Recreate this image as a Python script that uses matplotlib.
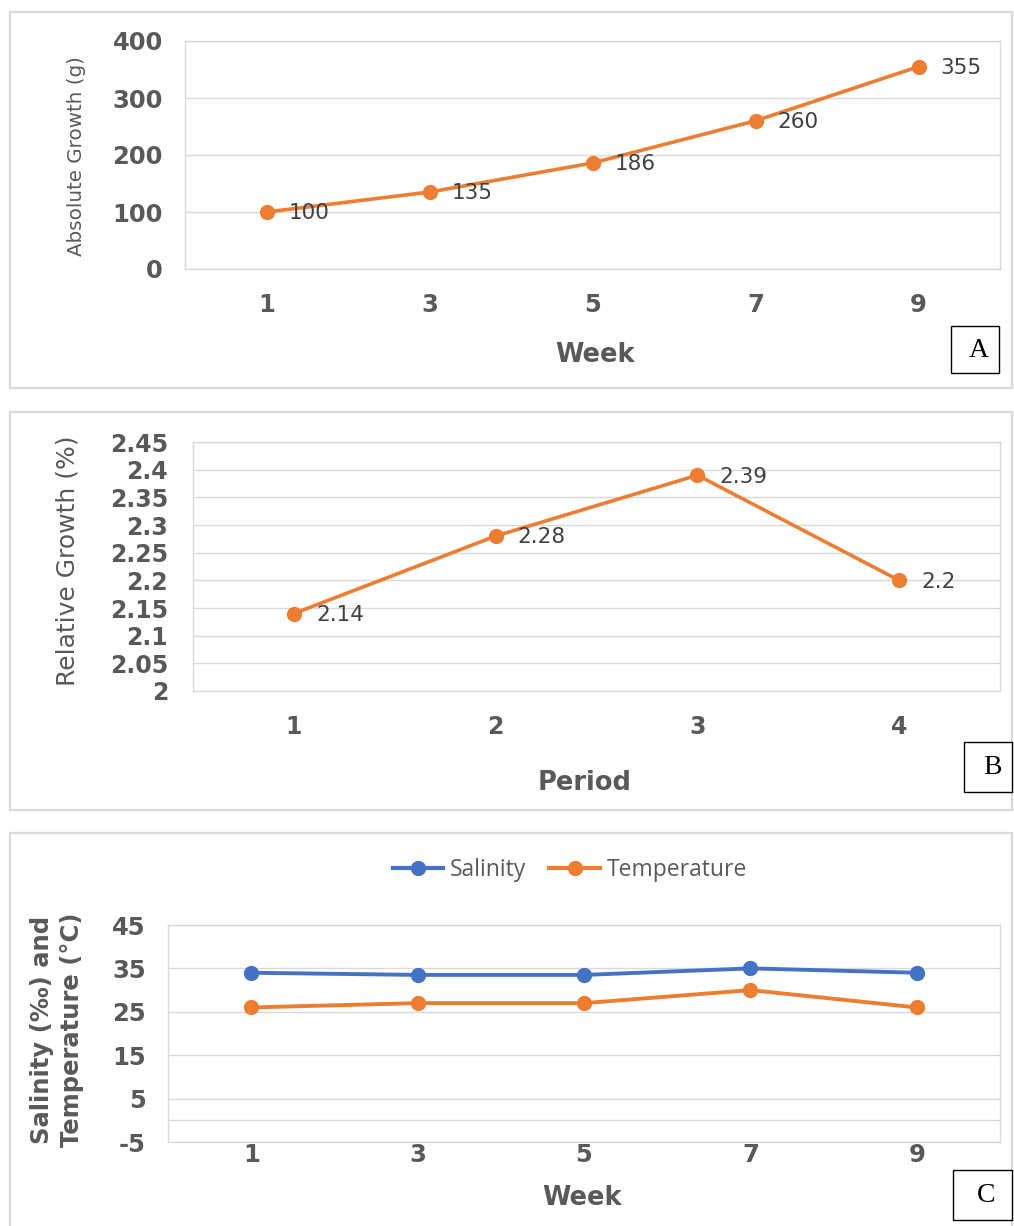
import matplotlib
matplotlib.use("Agg")
import matplotlib.pyplot as plt
from matplotlib.patches import Rectangle
from matplotlib.lines import Line2D

plt.rcParams["axes.unicode_minus"] = False

# ---------------- data ----------------
weeks = ["1", "3", "5", "7", "9"]
absolute_growth = [100, 135, 186, 260, 355]

periods = ["1", "2", "3", "4"]
relative_growth = [2.14, 2.28, 2.39, 2.2]
relative_labels = ["2.14", "2.28", "2.39", "2.2"]

salinity = [34, 33.5, 33.5, 35, 34]
temperature = [26, 27, 27, 30, 26]

# ---------------- style ----------------
W, H = 1014, 1226
ORANGE = "#ED7D31"
BLUE = "#4472C4"
GRID = "#D9D9D9"
TXT = "#595959"
LBL = "#404040"

fig = plt.figure(figsize=(W / 100, H / 100), dpi=100)
fig.patch.set_facecolor("white")


def rect(l, t, r, b):
    return [l / W, 1 - b / H, (r - l) / W, (b - t) / H]


def fx(x):
    return x / W


def fy(y):
    return 1 - y / H


# panel borders
for (l, t, r, b) in [(10, 12, 1012, 388), (10, 412, 1012, 810), (10, 833, 1012, 1240)]:
    fig.patches.append(Rectangle((fx(l), fy(b)), (r - l) / W, (b - t) / H,
                                 transform=fig.transFigure, fill=False,
                                 edgecolor="#D9D9D9", lw=1.6))


def style_axes(ax, size):
    for s in ax.spines.values():
        s.set_color(GRID)
        s.set_linewidth(1.0)
    ax.grid(axis="y", color=GRID, lw=1.0)
    ax.set_axisbelow(True)
    ax.tick_params(length=0, colors=TXT, labelsize=size)
    for lab in ax.get_xticklabels() + ax.get_yticklabels():
        lab.set_fontweight("bold")
        lab.set_color(TXT)


def box_label(text, l, t, r, b):
    fig.patches.append(Rectangle((fx(l), fy(b)), (r - l) / W, (b - t) / H,
                                 transform=fig.transFigure, fill=True,
                                 facecolor="white", edgecolor="black", lw=1.0))
    fig.text(fx((l + r) / 2 + 4), fy((t + b) / 2 + 1), text, family="Liberation Serif",
             fontsize=20, ha="center", va="center", color="black")


# ---------------- Panel A ----------------
axA = fig.add_axes(rect(185, 41, 1000, 269))
xa = list(range(len(weeks)))
axA.plot(xa, absolute_growth, color=ORANGE, lw=2.6, marker="o", ms=10, zorder=3)
axA.set_xlim(-0.5, len(weeks) - 0.5)
axA.set_ylim(0, 400)
axA.set_yticks([0, 100, 200, 300, 400])
axA.set_xticks(xa)
axA.set_xticklabels(weeks)
style_axes(axA, 17.5)
axA.tick_params(axis="x", pad=17)
axA.tick_params(axis="y", pad=16)
for x, v in zip(xa, absolute_growth):
    axA.annotate(str(v), (x, v), xytext=(16, -1), textcoords="offset points",
                 ha="left", va="center", fontsize=15.5, color=LBL)
fig.text(fx(77), fy(156), "Absolute Growth (g)", rotation=90, ha="center", va="center",
         fontsize=14.3, color=TXT)
fig.text(fx(595), fy(355), "Week", ha="center", va="center", fontsize=18.5,
         fontweight="bold", color=TXT)
box_label("A", 951, 326, 999, 373)

# ---------------- Panel B ----------------
axB = fig.add_axes(rect(193, 442, 1000, 691))
xb = list(range(len(periods)))
axB.plot(xb, relative_growth, color=ORANGE, lw=2.6, marker="o", ms=10, zorder=3)
axB.set_xlim(-0.5, len(periods) - 0.5)
axB.set_ylim(2.0, 2.45)
yt = [2.0, 2.05, 2.1, 2.15, 2.2, 2.25, 2.3, 2.35, 2.4, 2.45]
axB.set_yticks(yt)
axB.set_yticklabels(["2", "2.05", "2.1", "2.15", "2.2", "2.25", "2.3", "2.35", "2.4", "2.45"])
axB.set_xticks(xb)
axB.set_xticklabels(periods)
style_axes(axB, 17)
axB.tick_params(axis="x", pad=17)
axB.tick_params(axis="y", pad=18)
for x, v, s in zip(xb, relative_growth, relative_labels):
    axB.annotate(s, (x, v), xytext=(16, -1), textcoords="offset points",
                 ha="left", va="center", fontsize=15.5, color=LBL)
fig.text(fx(68), fy(561), "Relative Growth (%)", rotation=90, ha="center", va="center",
         fontsize=18, color=TXT)
fig.text(fx(585), fy(783), "Period", ha="center", va="center", fontsize=18.5,
         fontweight="bold", color=TXT)
box_label("B", 964, 742, 1012, 792)

# ---------------- Panel C ----------------
axC = fig.add_axes(rect(168, 925, 1000, 1142))
xc = list(range(len(weeks)))
axC.plot(xc, salinity, color=BLUE, lw=2.8, marker="o", ms=10, zorder=3, label="Salinity")
axC.plot(xc, temperature, color=ORANGE, lw=2.8, marker="o", ms=10, zorder=3, label="Temperature")
axC.set_xlim(-0.5, len(weeks) - 0.5)
axC.set_ylim(-5, 45)
axC.set_yticks([-5, 5, 15, 25, 35, 45])
axC.set_yticklabels(["-5", "5", "15", "25", "35", "45"])
axC.axhline(0, color=GRID, lw=1.0, zorder=0)
axC.set_xticks(xc)
axC.set_xticklabels(weeks)
style_axes(axC, 17.5)
axC.tick_params(axis="x", pad=1)
axC.tick_params(axis="y", pad=16)
handles = [Line2D([0], [0], color=BLUE, lw=3, marker="o", ms=10),
           Line2D([0], [0], color=ORANGE, lw=3, marker="o", ms=10)]
leg = fig.legend(handles, ["Salinity", "Temperature"], loc="center",
                 bbox_to_anchor=(fx(570), fy(870)), ncol=2, frameon=False,
                 prop={"family": "Open Sans", "size": 16.5}, handlelength=2.2,
                 columnspacing=1.0, handletextpad=0.3)
for t in leg.get_texts():
    t.set_color(TXT)
fig.text(fx(57), fy(1030), "Salinity (‰) and\nTemperature (°C)", rotation=90,
         ha="center", va="center", fontsize=17.5, fontweight="bold", color=TXT,
         linespacing=1.3)
fig.text(fx(582), fy(1198), "Week", ha="center", va="center", fontsize=18.5,
         fontweight="bold", color=TXT)
box_label("C", 953, 1170, 1012, 1220)

fig.savefig("out.png", dpi=100, facecolor="white")
